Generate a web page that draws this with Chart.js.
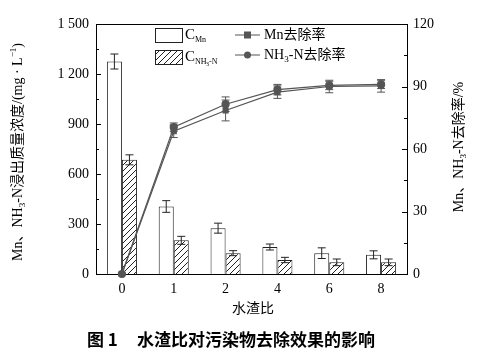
<!DOCTYPE html>
<html lang="zh">
<head>
    <meta charset="UTF-8">
    <title>水渣比对污染物去除效果的影响</title>
    <script src="https://cdn.jsdelivr.net/npm/chart.js@4.4.0/dist/chart.umd.min.js"></script>
    <style>
        html, body { margin: 0; padding: 0; background: #fff; }
        #wrap { position: relative; width: 491px; height: 354px; }
    </style>
</head>
<body>
<div id="wrap"><canvas id="chart" width="491" height="354"></canvas></div>
<script>
// data
const categories = ['0', '1', '2', '4', '6', '8'];
const mnConc = [1275, 405, 275, 162, 125, 115];
const mnConcErr = [45, 35, 30, 18, 32, 24];
const nhConc = [685, 202, 125, 84, 70, 70];
const nhConcErr = [30, 24, 15, 16, 20, 20];
const mnRemoval = [0, 68.5, 78.5, 87.3, 90, 90.3];
const mnRemovalErr = [0, 3, 5, 3, 3, 3];
const nhRemoval = [0, 70.5, 81.5, 88.5, 90.5, 91];
const nhRemovalErr = [0, 2, 3.5, 2.5, 2, 2];
const leftTicks = [0, 300, 600, 900, 1200, 1500];
const rightTicks = [0, 30, 60, 90, 120];

const SERIF = '"Liberation Serif", "Noto Sans CJK SC", serif';
const LINE_COLOR = '#555';

// hatch pattern for the NH3-N bars
function makeHatch() {
    const c = document.createElement('canvas');
    c.width = 6; c.height = 6;
    const g = c.getContext('2d');
    g.fillStyle = '#fff';
    g.fillRect(0, 0, 6, 6);
    g.strokeStyle = '#222';
    g.lineWidth = 1;
    g.beginPath();
    g.moveTo(0, 6); g.lineTo(6, 0);
    g.moveTo(-1, 1); g.lineTo(1, -1);
    g.moveTo(5, 7); g.lineTo(7, 5);
    g.stroke();
    return g.createPattern(c, 'repeat');
}
const hatch = makeHatch();

// draws text made of pieces with sub/superscripts, centred at (x, y)
function drawRich(ctx, parts, x, y, size, angle) {
    ctx.save();
    ctx.translate(x, y);
    ctx.rotate(angle || 0);
    let total = 0;
    parts.forEach(p => {
        const s = p.small ? size * 0.65 : size;
        ctx.font = s + 'px ' + SERIF;
        p.w = ctx.measureText(p.t).width;
        total += p.w;
    });
    let cx = -total / 2;
    ctx.fillStyle = '#000';
    ctx.textBaseline = 'middle';
    ctx.textAlign = 'left';
    parts.forEach(p => {
        const s = p.small ? size * 0.65 : size;
        ctx.font = s + 'px ' + SERIF;
        let dy = 0;
        if (p.sub) dy = size * 0.3;
        if (p.sup) dy = -size * 0.3;
        ctx.fillText(p.t, cx, dy);
        cx += p.w;
    });
    ctx.restore();
}

function drawRichLeft(ctx, parts, x, y, size) {
    let w = 0;
    parts.forEach(p => {
        const s = p.small ? size * 0.65 : size;
        ctx.font = s + 'px ' + SERIF;
        w += ctx.measureText(p.t).width;
    });
    drawRich(ctx, parts, x + w / 2, y, size, 0);
}

function drawErr(ctx, x, yScale, v, e, cap) {
    if (!e) return;
    const y1 = yScale.getPixelForValue(v + e);
    const y2 = yScale.getPixelForValue(v - e);
    ctx.beginPath();
    ctx.moveTo(x, y1); ctx.lineTo(x, y2);
    ctx.moveTo(x - cap, y1); ctx.lineTo(x + cap, y1);
    ctx.moveTo(x - cap, y2); ctx.lineTo(x + cap, y2);
    ctx.stroke();
}

const decorations = {
    id: 'decorations',
    afterDatasetDraw(chart, args) {
        const ctx = chart.ctx;
        const meta = args.meta;
        const y = chart.scales.y, y1 = chart.scales.y1;
        ctx.save();
        ctx.lineWidth = 1;
        if (args.index === 2 || args.index === 3) {
            const errs = args.index === 2 ? mnConcErr : nhConcErr;
            const vals = args.index === 2 ? mnConc : nhConc;
            ctx.strokeStyle = '#222';
            meta.data.forEach((bar, i) => drawErr(ctx, bar.x, y, vals[i], errs[i], 4));
        } else {
            const errs = args.index === 0 ? mnRemovalErr : nhRemovalErr;
            const vals = args.index === 0 ? mnRemoval : nhRemoval;
            ctx.strokeStyle = LINE_COLOR;
            meta.data.forEach((pt, i) => drawErr(ctx, pt.x, y1, vals[i], errs[i], 4));
        }
        ctx.restore();
    },
    afterDraw(chart) {
        const ctx = chart.ctx;
        const a = chart.chartArea;
        const y = chart.scales.y, y1 = chart.scales.y1;
        ctx.save();
        ctx.strokeStyle = '#000';
        ctx.lineWidth = 1;
        // top frame line
        ctx.beginPath();
        ctx.moveTo(a.left, a.top + 0.5); ctx.lineTo(a.right, a.top + 0.5);
        ctx.stroke();
        // inward ticks, major + minor
        ctx.beginPath();
        for (let v = 0; v <= 1500; v += 150) {
            const py = Math.round(y.getPixelForValue(v)) + 0.5;
            const len = v % 300 === 0 ? 5 : 3;
            ctx.moveTo(a.left, py); ctx.lineTo(a.left + len, py);
        }
        for (let v = 0; v <= 120; v += 15) {
            const py = Math.round(y1.getPixelForValue(v)) + 0.5;
            const len = v % 30 === 0 ? 5 : 3;
            ctx.moveTo(a.right, py); ctx.lineTo(a.right - len, py);
        }
        ctx.stroke();

        // axis titles
        drawRich(ctx, [
            {t: 'Mn、NH'}, {t: '3', small: true, sub: true},
            {t: '-N浸出质量浓度/(mg · L'}, {t: '−1', small: true, sup: true}, {t: ')'}
        ], 18, 152, 14, -Math.PI / 2);
        drawRich(ctx, [
            {t: 'Mn、NH'}, {t: '3', small: true, sub: true}, {t: '-N去除率/%'}
        ], 459, 147, 14, -Math.PI / 2);
        drawRich(ctx, [{t: '水渣比'}], 253, 309, 14, 0);

        // caption
        ctx.fillStyle = '#000';
        ctx.textBaseline = 'middle';
        ctx.textAlign = 'left';
        ctx.font = 'bold 17px "Noto Sans CJK SC", sans-serif';
        ctx.fillText('图 1', 87, 340);
        ctx.fillText('水渣比对污染物去除效果的影响', 137, 340);

        // legend
        ctx.lineWidth = 1;
        ctx.strokeStyle = '#222';
        ctx.fillStyle = '#fff';
        ctx.fillRect(155, 28, 27, 14);
        ctx.strokeRect(155.5, 28.5, 27, 14);
        ctx.fillStyle = hatch;
        ctx.fillRect(155, 50, 27, 14);
        ctx.strokeRect(155.5, 50.5, 27, 14);
        ctx.fillStyle = '#000';
        ctx.font = '15px ' + SERIF;
        ctx.fillText('C', 185, 35);
        ctx.fillText('C', 185, 57);
        ctx.font = '8px ' + SERIF;
        ctx.fillText('Mn', 195, 40);
        ctx.fillText('NH', 195, 62);
        ctx.font = '6px ' + SERIF;
        ctx.fillText('3', 206, 64);
        ctx.font = '8px ' + SERIF;
        ctx.fillText('-N', 209, 62);

        ctx.strokeStyle = LINE_COLOR;
        ctx.fillStyle = LINE_COLOR;
        ctx.lineWidth = 1.2;
        ctx.beginPath();
        ctx.moveTo(235, 35); ctx.lineTo(260, 35);
        ctx.moveTo(235, 55); ctx.lineTo(260, 55);
        ctx.stroke();
        ctx.fillRect(244, 31.5, 7, 7);
        ctx.beginPath();
        ctx.arc(247.5, 55, 3.5, 0, Math.PI * 2);
        ctx.fill();
        drawRichLeft(ctx, [{t: 'Mn去除率'}], 264, 35, 14);
        drawRichLeft(ctx, [{t: 'NH'}, {t: '3', small: true, sub: true}, {t: '-N去除率'}], 264, 55, 14);
        ctx.restore();
    }
};

function fmt(v) {
    return v >= 1000 ? Math.floor(v / 1000) + ' ' + String(v % 1000).padStart(3, '0') : String(v);
}

new Chart(document.getElementById('chart'), {
    data: {
        labels: categories,
        datasets: [
            {
                type: 'line', label: 'Mn去除率', data: mnRemoval, yAxisID: 'y1',
                borderColor: LINE_COLOR, backgroundColor: LINE_COLOR, borderWidth: 1.2,
                pointStyle: 'rect', pointRadius: 3.5, tension: 0, clip: false
            },
            {
                type: 'line', label: 'NH3-N去除率', data: nhRemoval, yAxisID: 'y1',
                borderColor: LINE_COLOR, backgroundColor: LINE_COLOR, borderWidth: 1.2,
                pointStyle: 'circle', pointRadius: 3.5, tension: 0, clip: false
            },
            {
                type: 'bar', label: 'C_Mn', data: mnConc, yAxisID: 'y',
                backgroundColor: '#fff', borderColor: '#222', borderWidth: 1,
                categoryPercentage: 0.58, barPercentage: 1
            },
            {
                type: 'bar', label: 'C_NH3-N', data: nhConc, yAxisID: 'y',
                backgroundColor: hatch, borderColor: '#222', borderWidth: 1,
                categoryPercentage: 0.58, barPercentage: 1
            }
        ]
    },
    options: {
        responsive: false,
        animation: false,
        layout: { padding: { top: 24, left: 0, right: 0, bottom: 0 } },
        plugins: { legend: { display: false }, tooltip: { enabled: false } },
        scales: {
            x: {
                type: 'category', offset: true,
                grid: { display: false, drawTicks: false },
                border: { display: true, color: '#000', width: 1 },
                ticks: { color: '#000', font: { family: SERIF, size: 14 }, padding: 7 },
                afterFit(s) { s.height = 80; }
            },
            y: {
                position: 'left', min: 0, max: 1500,
                afterBuildTicks(s) { s.ticks = leftTicks.map(v => ({ value: v })); },
                grid: { display: false, drawTicks: false },
                border: { display: true, color: '#000', width: 1 },
                ticks: { color: '#000', font: { family: SERIF, size: 14 }, padding: 7, callback: v => fmt(v) },
                afterFit(s) { s.width = 96; }
            },
            y1: {
                position: 'right', min: 0, max: 120,
                afterBuildTicks(s) { s.ticks = rightTicks.map(v => ({ value: v })); },
                grid: { display: false, drawTicks: false },
                border: { display: true, color: '#000', width: 1 },
                ticks: { color: '#000', font: { family: SERIF, size: 14 }, padding: 6 },
                afterFit(s) { s.width = 84; }
            }
        }
    },
    plugins: [decorations]
});
</script>
</body>
</html>
